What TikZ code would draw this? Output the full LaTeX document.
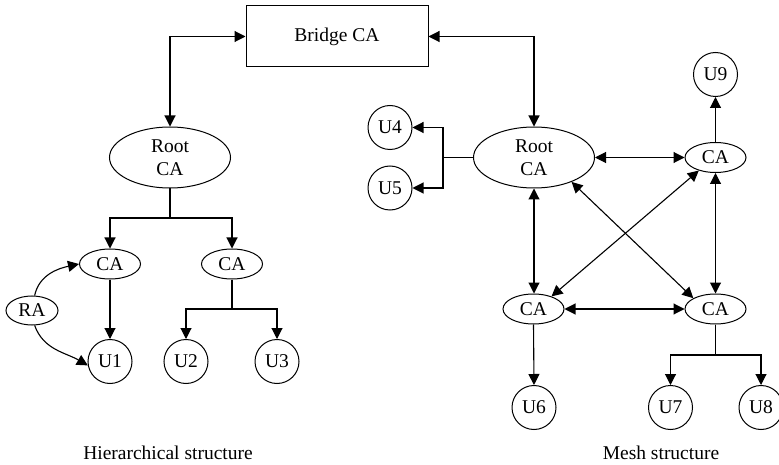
\documentclass[tikz,border=0pt]{standalone}
\usepackage{fontspec}
\setmainfont{Liberation Serif}
\usetikzlibrary{shapes.geometric,arrows.meta}
\begin{document}
\begin{tikzpicture}[x=1pt,y=-1pt,
  every node/.style={font=\fontsize{19.5}{22.5}\selectfont, line width=1pt},
  box/.style={draw, rectangle, minimum width=182pt, minimum height=61pt, inner sep=0pt},
  bigell/.style={draw, ellipse, minimum width=121pt, minimum height=61pt, inner sep=0pt, align=center},
  smell/.style={draw, ellipse, minimum width=61pt, minimum height=30pt, inner sep=0pt},
  raell/.style={draw, ellipse, minimum width=52pt, minimum height=29pt, inner sep=0pt},
  usr/.style={draw, circle, minimum size=44pt, inner sep=0pt},
  lbl/.style={inner sep=0pt},
  ln/.style={line width=1.1pt},
  arr/.style={ln, -{Triangle[length=11pt,width=11pt]}},
  darr/.style={ln, {Triangle[length=11pt,width=11pt]}-{Triangle[length=11pt,width=11pt]}}
]
\useasboundingbox (0,0) rectangle (779,465);

% nodes
\node[box] (bridge) at (337,36.5) {Bridge CA};
\node[bigell] (rootL) at (170,157.5) {Root\\CA};
\node[smell] (caL1) at (110,264) {CA};
\node[smell] (caL2) at (232,264) {CA};
\node[raell] (ra) at (32,310.5) {RA};
\node[usr] (u1) at (110,361.5) {U1};
\node[usr] (u2) at (186,361.5) {U2};
\node[usr] (u3) at (277,361.5) {U3};

\node[bigell] (rootM) at (534,157.5) {Root\\CA};
\node[smell] (caM2) at (715.5,157.5) {CA};
\node[smell] (caM3) at (533.5,309) {CA};
\node[smell] (caM4) at (715.5,309) {CA};
\node[usr] (u4) at (390,127.5) {U4};
\node[usr] (u5) at (390,188) {U5};
\node[usr] (u9) at (715.5,74.5) {U9};
\node[usr] (u6) at (534,407.5) {U6};
\node[usr] (u7) at (670.5,407.5) {U7};
\node[usr] (u8) at (761,407.5) {U8};

\node[lbl] (t1) at (168,453) {Hierarchical structure};
\node[lbl] (t2) at (661,453) {Mesh structure};

% bridge connections
\draw[darr] (bridge.west) -| (rootL.north);
\draw[darr] (bridge.east) -| (rootM.north);

% hierarchical
\coordinate (jL) at (170,218);
\draw[ln] (rootL.south) -- (jL);
\draw[arr] (jL) -| (caL1.north);
\draw[arr] (jL) -| (caL2.north);
\draw[arr] (caL1.south) -- (u1.north);
\coordinate (jL2) at (232,309);
\draw[ln] (caL2.south) -- (jL2);
\draw[arr] (jL2) -| (u2.north);
\draw[arr] (jL2) -| (u3.north);
\draw[arr] (ra.80) to[out=78,in=192] (caL1.west);
\draw[arr] (ra.-80) to[out=-70,in=150] (u1.190);

% mesh
\coordinate (jM) at (443,157.5);
\draw[ln] (rootM.west) -- (jM);
\draw[arr] (jM) |- (u4.east);
\draw[arr] (jM) |- (u5.east);
\draw[darr] (rootM.east) -- (caM2.west);
\draw[arr] (caM2.north) -- (u9.south);
\draw[darr] (rootM.south) -- (caM3.north -| rootM.south);
\draw[darr] (caM2.south) -- (caM4.north);
\draw[darr] (caM3.east) -- (caM4.west);
\draw[darr] (rootM.-33) -- (caM4.154);
\draw[darr] (caM2.218) -- (caM3.35);
\draw[arr] (caM3.south) -- (u6.north);
\coordinate (jM2) at (715.5,355);
\draw[ln] (caM4.south) -- (jM2);
\draw[arr] (jM2) -| (u7.north);
\draw[arr] (jM2) -| (u8.north);
\end{tikzpicture}
\end{document}
